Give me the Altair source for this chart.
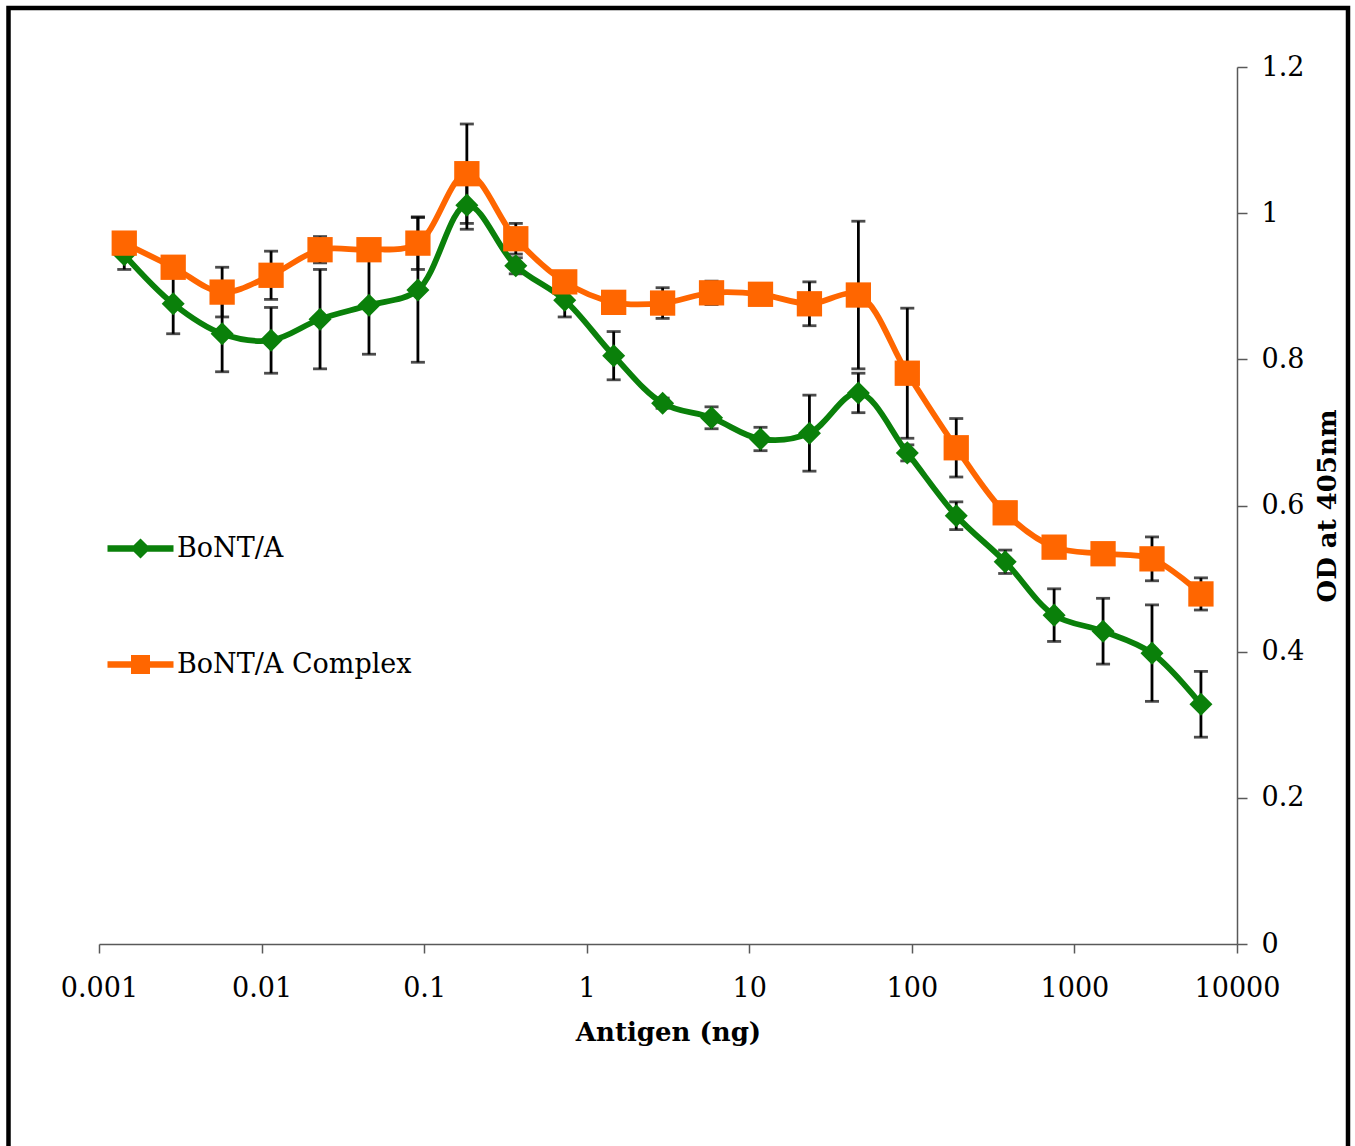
import altair as alt
import pandas as pd

# ---- data -------------------------------------------------------------
antigen_ng = [0.00143, 0.00286, 0.00572, 0.01144, 0.02289, 0.04578, 0.09155,
              0.1831, 0.3662, 0.7324, 1.465, 2.930, 5.859, 11.72, 23.44,
              46.88, 93.75, 187.5, 375, 750, 1500, 3000, 6000]

bont_a = [0.943, 0.876, 0.835, 0.826, 0.855, 0.874, 0.895, 1.011, 0.928,
          0.881, 0.805, 0.740, 0.720, 0.691, 0.699, 0.754, 0.672, 0.586,
          0.523, 0.450, 0.428, 0.398, 0.328]
bont_a_err = [0.020, 0.041, 0.052, 0.045, 0.068, 0.067, 0.099, 0.033, 0.011,
              0.023, 0.033, 0.007, 0.015, 0.016, 0.052, 0.027, 0.011, 0.019,
              0.016, 0.036, 0.045, 0.066, 0.045]

complex_a = [0.959, 0.926, 0.892, 0.915, 0.950, 0.950, 0.959, 1.054, 0.965,
             0.906, 0.878, 0.877, 0.891, 0.889, 0.876, 0.888, 0.781, 0.679,
             0.590, 0.543, 0.534, 0.527, 0.479]
complex_a_err = [0.007, 0.007, 0.034, 0.033, 0.018, 0.007, 0.036, 0.068, 0.021,
                 0.007, 0.005, 0.021, 0.016, 0.007, 0.030, 0.101, 0.089, 0.040,
                 0.007, 0.007, 0.007, 0.030, 0.022]

series_names = ["BoNT/A", "BoNT/A Complex"]
series_colors = ["#0a800a", "#ff6600"]
x_ticks = [0.001, 0.01, 0.1, 1, 10, 100, 1000, 10000]
y_ticks = [0, 0.2, 0.4, 0.6, 0.8, 1.0, 1.2]

rows = []
for name, vals, errs in [(series_names[0], bont_a, bont_a_err),
                         (series_names[1], complex_a, complex_a_err)]:
    for x, v, e in zip(antigen_ng, vals, errs):
        rows.append({"antigen": x, "od": v, "lo": v - e, "hi": v + e, "series": name})
df = pd.DataFrame(rows)

FONT = "DejaVu Serif"
W, H = 1138, 877

xscale = alt.Scale(type="log", domain=[0.001, 10000], nice=False)
yscale = alt.Scale(domain=[0, 1.2], nice=False)

X = alt.X("antigen:Q", scale=xscale,
          axis=alt.Axis(title="Antigen (ng)", values=x_ticks, format="~g",
                        orient="bottom", grid=False, domainColor="#595959",
                        domainWidth=1.5, tickColor="#595959", tickWidth=1.5,
                        tickSize=9, labelFont=FONT, labelFontSize=27,
                        labelColor="black", labelPadding=22, labelFlush=False,
                        labelOverlap=False,
                        titleFont=FONT, titleFontSize=26, titleFontWeight="bold",
                        titleColor="black", titlePadding=18))
Y = alt.Y("od:Q", scale=yscale,
          axis=alt.Axis(title="OD at 405nm", values=y_ticks, format="~g",
                        orient="right", grid=False, domainColor="#595959",
                        domainWidth=1.5, tickColor="#595959", tickWidth=1.5,
                        tickSize=10, labelFont=FONT, labelFontSize=27,
                        labelColor="black", labelPadding=14, labelFlush=False,
                        titleFont=FONT, titleFontSize=26, titleFontWeight="bold",
                        titleColor="black", titleAngle=270, titlePadding=37))

base = alt.Chart(df)

err_rule = base.mark_rule(color="black", strokeWidth=2.8).encode(
    x=alt.X("antigen:Q", scale=xscale), y=alt.Y("lo:Q", scale=yscale), y2="hi:Q")
cap_lo = base.mark_tick(color="black", thickness=2.8, size=14, orient="horizontal").encode(
    x=alt.X("antigen:Q", scale=xscale), y=alt.Y("lo:Q", scale=yscale))
cap_hi = base.mark_tick(color="black", thickness=2.8, size=14, orient="horizontal").encode(
    x=alt.X("antigen:Q", scale=xscale), y=alt.Y("hi:Q", scale=yscale))

layers = [err_rule, cap_lo, cap_hi]

shapes_plot = ["diamond", "square"]
sizes_plot = [530, 640]
for name, col, shp, sz in zip(series_names, series_colors, shapes_plot, sizes_plot):
    sub = base.transform_filter(alt.datum.series == name)
    line = sub.mark_line(color=col, strokeWidth=5.8, interpolate="catmull-rom").encode(
        x=X if name == series_names[0] else alt.X("antigen:Q", scale=xscale),
        y=Y if name == series_names[0] else alt.Y("od:Q", scale=yscale))
    pts = sub.mark_point(shape=shp, size=sz, filled=True, color=col, opacity=1).encode(
        x=alt.X("antigen:Q", scale=xscale), y=alt.Y("od:Q", scale=yscale))
    layers += [line, pts]

# legend-only layer (invisible marks, legend symbols shaped as line + marker)
diamond_path = ("M-3.3,-0.32 L-0.68,-0.32 L0,-1 L0.68,-0.32 L3.3,-0.32 L3.3,0.32 "
                "L0.68,0.32 L0,1 L-0.68,0.32 L-3.3,0.32 Z")
square_path = ("M-3.3,-0.32 L-0.95,-0.32 L-0.95,-0.95 L0.95,-0.95 L0.95,-0.32 "
               "L3.3,-0.32 L3.3,0.32 L0.95,0.32 L0.95,0.95 L-0.95,0.95 L-0.95,0.32 "
               "L-3.3,0.32 Z")
legend = alt.Legend(orient="none", legendX=28, legendY=468, title=None,
                    labelFont=FONT, labelFontSize=27, labelColor="black",
                    labelLimit=0,
                    symbolSize=400, symbolStrokeWidth=0, symbolOpacity=1,
                    labelOffset=23, rowPadding=88, padding=0)
legend_layer = base.mark_point(filled=True, opacity=0).encode(
    x=alt.X("antigen:Q", scale=xscale), y=alt.Y("od:Q", scale=yscale),
    color=alt.Color("series:N", scale=alt.Scale(domain=series_names, range=series_colors),
                    legend=legend),
    shape=alt.Shape("series:N", scale=alt.Scale(domain=series_names,
                                                range=[diamond_path, square_path]),
                    legend=legend))
layers.append(legend_layer)

frame = alt.Chart(alt.Data(values=[{"f": 1}])).mark_rect(
    fill=None, stroke="black", strokeWidth=4.5, clip=False).encode(
    x=alt.value(-90.5), x2=alt.value(1249), y=alt.value(-59), y2=alt.value(1100))
layers.append(frame)

chart = alt.layer(*layers).properties(
    width=W, height=H,
    autosize=alt.AutoSizeParams(type="none"),
    padding={"left": 99, "top": 67, "right": 118, "bottom": 202},
    background="white",
).configure_view(stroke=None)

chart.save("out.html", embed_options={"renderer": "svg", "actions": False})
